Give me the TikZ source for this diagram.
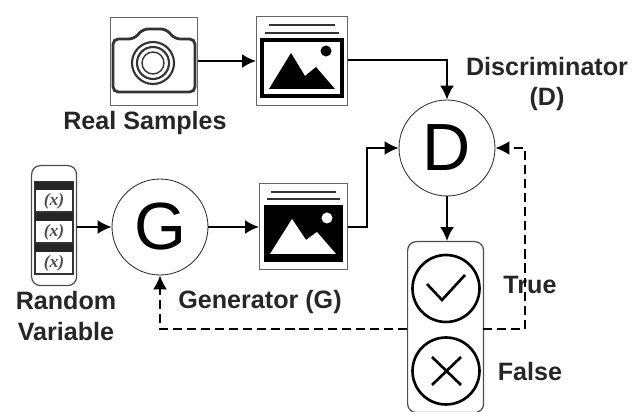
\documentclass[tikz,border=0pt]{standalone}
\usepackage{fontspec}
\setmainfont{Liberation Sans}
\newfontfamily\varfont{Liberation Serif}
\usetikzlibrary{arrows.meta}
\tikzset{
  lab/.style={font=\fontsize{14.3}{17.5}\selectfont\bfseries,text=black!85,align=center,inner sep=0pt},
  bigcirc/.style={circle,draw=black!80,line width=.5pt,minimum size=1.92cm,inner sep=0pt,font=\fontsize{38}{38}\selectfont},
  framebox/.style={draw=black!60,line width=.8pt,inner sep=0pt,anchor=north west},
  groupbox/.style={draw=black!70,line width=.7pt,rounded corners=5pt,inner sep=0pt,anchor=north west},
  res/.style={circle,draw=black,line width=1.5pt,minimum size=1.34cm,inner sep=0pt},
  varlab/.style={inner sep=0pt,text=black!70,font=\varfont\fontsize{10}{10}\selectfont\bfseries\itshape},
  flow/.style={line width=1.1pt,-{Latex[length=.28cm,width=.28cm]}},
  fb/.style={flow,dash pattern=on 5.2pt off 2.8pt}
}
\begin{document}
\begin{tikzpicture}[x=.02cm,y=-.02cm]
    \useasboundingbox (0,0) rectangle (637,412);
    % ------ boxes -----------------------------
    \node[framebox,minimum width=1.74cm,minimum height=1.76cm] (real) at (110,17) {};
    \node[framebox,minimum width=1.82cm,minimum height=1.78cm] (pica) at (256,16) {};
    \node[framebox,minimum width=1.76cm,minimum height=1.72cm] (picb) at (259,183) {};
    \node[groupbox,minimum width=.9cm,minimum height=2.4cm] (rand) at (31,165) {};
    \node[groupbox,minimum width=1.52cm,minimum height=3.42cm] (result) at (407,241) {};
    \node[bigcirc] (gen) at (160,227) {G};
    \node[bigcirc] (disc) at (447,148) {D};
    \node[res] (yes) at (446,288.5) {};
    \node[res] (no) at (446,371) {};
    % ------ camera -----------------------------
    \draw [line width=1.6pt,black!80,rounded corners=3pt]
        (113,39)--(134,39)--(143,29)--(166,29)--(175,39)--(195,39)--(195,92)--(113,92)--cycle;
    \draw [line width=1.2pt,black!80] (153,63) circle (21) circle (16);
    \draw [line width=.8pt,black!80] (153,63) circle (11);
    % ------ real picture -----------------------------
    \draw [line width=1.3pt,black!80] (269,25)--(335,25) (265,33)--(339,33);
    \draw [line width=1.8pt] (262,40) rectangle (342,96);
    \fill (326,51) circle (5.5);
    \fill (269,89)--(291,53)--(305,76)--(316,67)--(335,89)--cycle;
    % ------ fake picture -----------------------------
    \draw [line width=1.3pt,black!80] (271,192)--(336,192) (267,199)--(340,199);
    \fill (264,205) rectangle (343,262);
    \fill [white] (327,218) circle (5.5);
    \fill [white] (270,254)--(292,219)--(306,240)--(317,232)--(336,254)--cycle;
    % ------ variables -----------------------------
    \foreach \n/\y in {a/182,b/213,c/244} {
      \draw [line width=1.5pt,black!80] (35,\y) rectangle (73,\y+30);
      \fill [black!85] (35,\y) rectangle (73,\y+8);
      \node [varlab] (var\n) at (54,\y+19) {(x)};
    }
    % ------ marks -----------------------------
    \draw [line width=1.5pt] (427,284)--(442,300)--(465,275);
    \draw [line width=1.5pt] (432,357)--(461,385) (461,357)--(432,385);
    % ------ labels -----------------------------
    \node[lab] (lreal) at (145,123) {Real Samples};
    \node[lab] (ldisc) at (547,84) {Discriminator\\(D)};
    \node[lab] (lrand) at (66,316) {Random\\Variable};
    \node[lab] (lgen) at (260,302) {Generator (G)};
    \node[lab] (ltrue) at (530,285) {True};
    \node[lab] (lfalse) at (530,372) {False};
    % ------ connectors -----------------------------
    \coordinate (fbright) at (483,329);
    \coordinate (fbleft) at (407,329);
    \coordinate (fbturn) at (525,329);
    \draw [flow] (real.east |- 0,61) -- (pica.west |- 0,61);
    \draw [flow] (pica.east |- 0,60) -| (disc.north);
    \draw [flow] (rand.east |- gen.west) -- (gen.west);
    \draw [flow] (gen.east) -- (picb.west |- gen.east);
    \draw [flow] (picb.east |- gen.east) -- (367,227) |- (disc.west);
    \draw [flow] (disc.south) -- (disc.south |- result.north);
    \draw [fb] (fbright) -- (fbturn) |- (disc.east);
    \draw [fb] (fbleft) -| (gen.south);
\end{tikzpicture}
\end{document}
